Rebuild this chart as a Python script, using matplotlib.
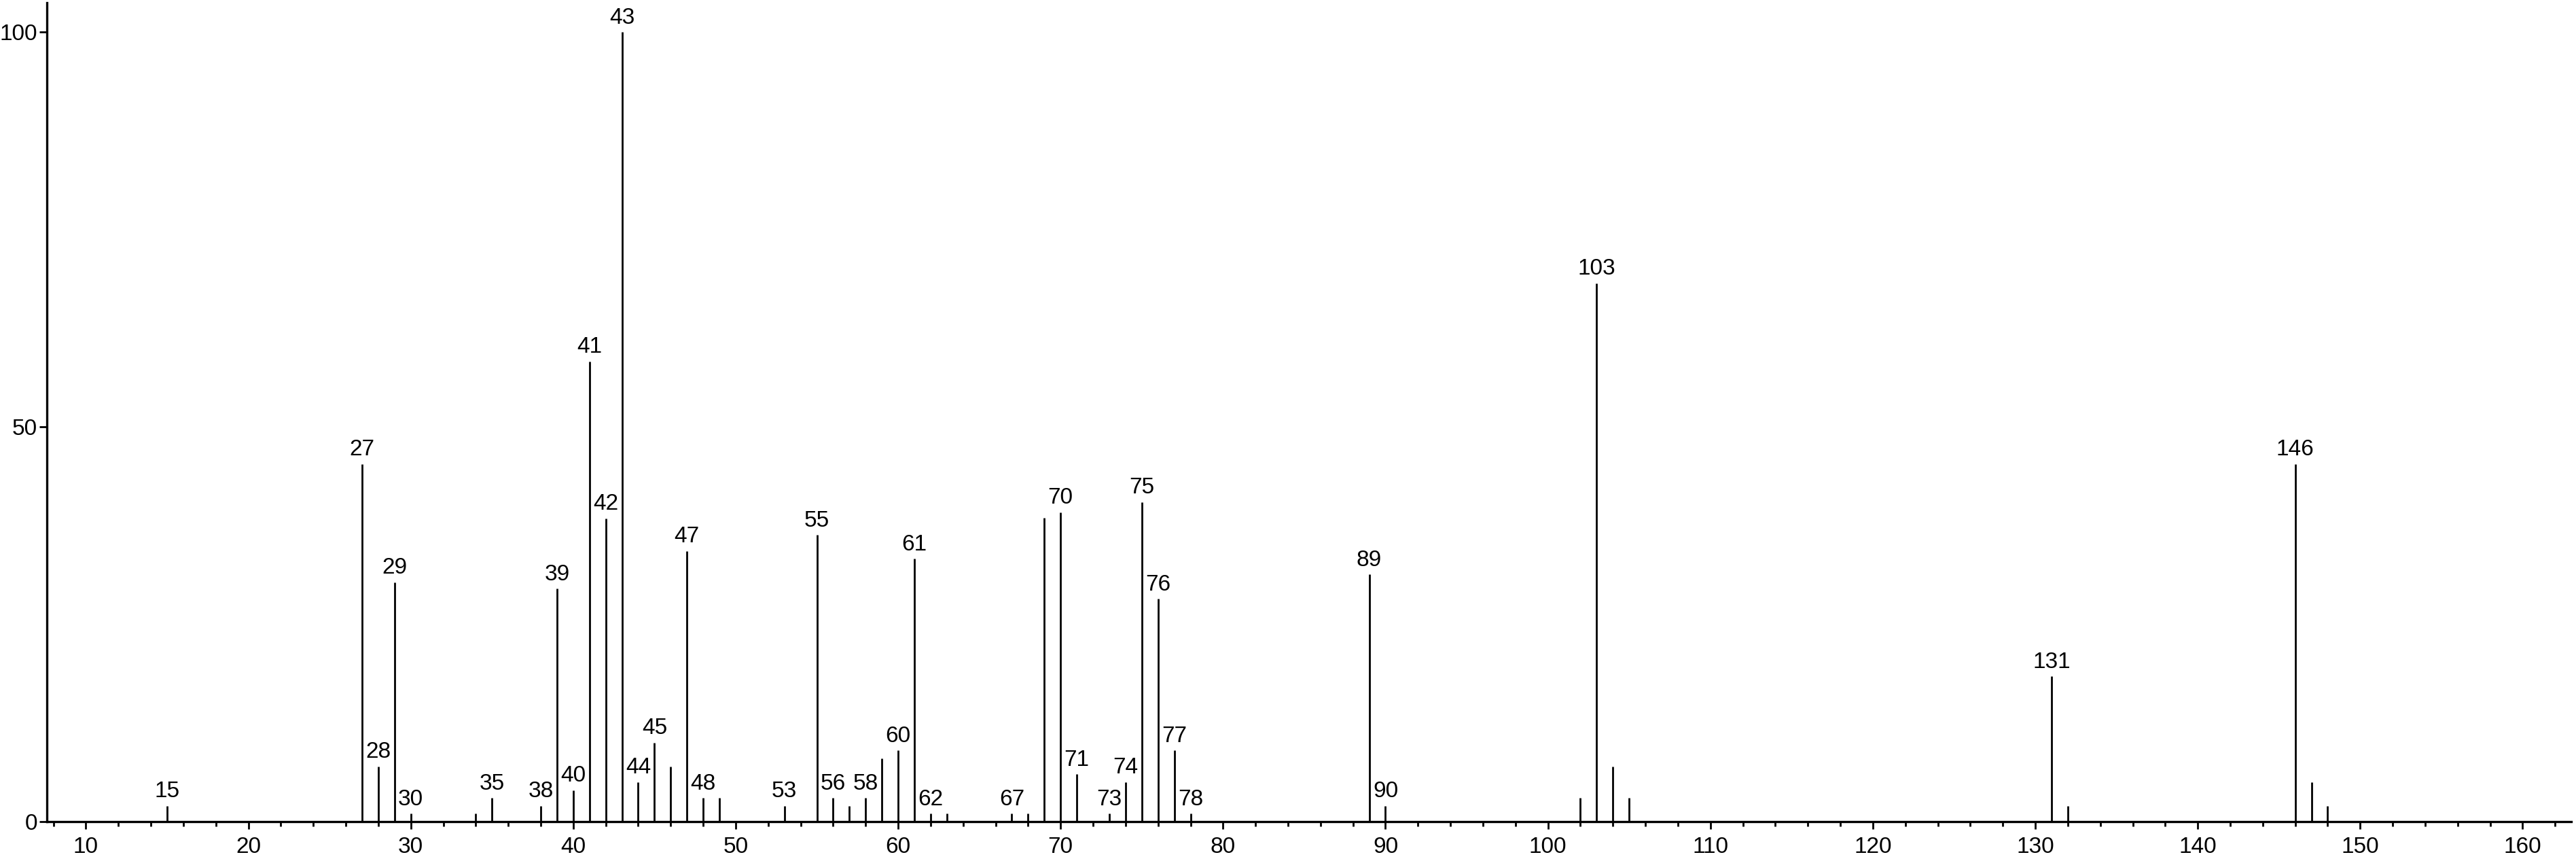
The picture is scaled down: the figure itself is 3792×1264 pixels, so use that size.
import matplotlib
matplotlib.use("Agg")
import matplotlib.pyplot as plt
from matplotlib.ticker import MultipleLocator

# mass spectrum: m/z and relative intensity (base peak = 100)
mz = [15, 27, 28, 29, 30, 34, 35, 38, 39, 40, 41, 42, 43, 44, 45, 46, 47, 48, 49,
      53, 55, 56, 57, 58, 59, 60, 61, 62, 63, 67, 68, 69, 70, 71, 73, 74, 75, 76,
      77, 78, 89, 90, 102, 103, 104, 105, 131, 132, 146, 147, 148]
intensity = [2, 45.3, 7, 30.3, 1, 1, 3, 2, 29.5, 4, 58.3, 38.4, 100, 5, 10, 7, 34.3, 3, 3,
             2, 36.3, 3, 2, 3, 8, 9, 33.3, 1, 1, 1, 1, 38.5, 39.2, 6, 1, 5, 40.5, 28.2,
             9, 1, 31.3, 2, 3, 68.2, 7, 3, 18.4, 2, 45.3, 5, 2]
# peaks that carry an m/z label
labelled = [15, 27, 28, 29, 30, 35, 38, 39, 40, 41, 42, 43, 44, 45, 47, 48, 53, 55,
            56, 58, 60, 61, 62, 67, 70, 71, 73, 74, 75, 76, 77, 78, 89, 90, 103, 131, 146]

plt.rcParams['font.family'] = ['Liberation Sans', 'DejaVu Sans']
plt.rcParams['font.size'] = 24

fig = plt.figure(figsize=(37.92, 12.64), dpi=100)
ax = fig.add_axes([0.0182, 0.0435, 0.98, 0.953])

ax.vlines(mz, 0, intensity, colors='black', linewidth=2.0)

for m, h in zip(mz, intensity):
    if m in labelled:
        ax.annotate(str(m), (m, h), xytext=(0, 4), textcoords='offset points',
                    ha='center', va='bottom', fontsize=24)

ax.set_xlim(7.6, 163)
ax.set_ylim(0, 103.7)

ax.xaxis.set_major_locator(MultipleLocator(10))
ax.xaxis.set_minor_locator(MultipleLocator(2))
ax.set_yticks([0, 50, 100])

for side in ['top', 'right']:
    ax.spines[side].set_visible(False)
for side in ['left', 'bottom']:
    ax.spines[side].set_linewidth(2.4)

ax.tick_params(axis='x', which='major', length=8, width=2, pad=8, labelsize=24)
ax.tick_params(axis='x', which='minor', length=5, width=2)
ax.tick_params(axis='y', which='major', length=8, width=2, pad=2, labelsize=24)

fig.savefig("out.png", dpi=100)
